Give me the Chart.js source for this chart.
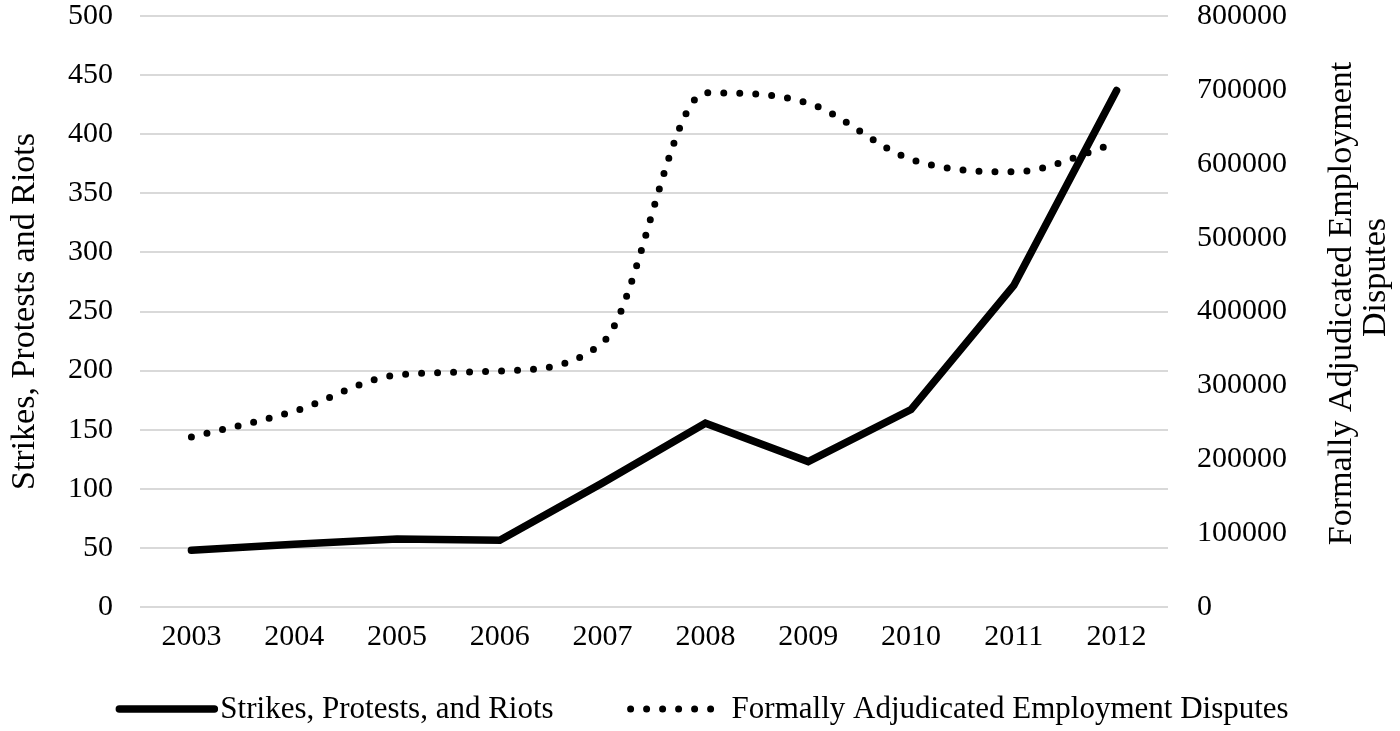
<!DOCTYPE html>
<html>
<head>
<meta charset="utf-8">
<script src="https://cdn.jsdelivr.net/npm/chart.js@4"></script>
<style>
  html, body { margin: 0; padding: 0; background: #fff; }
  #wrap { width: 1400px; height: 731px; }
</style>
</head>
<body>
<div id="wrap"><canvas id="chart"></canvas></div>
<script>
const years = ['2003', '2004', '2005', '2006', '2007', '2008', '2009', '2010', '2011', '2012'];
const strikes = [48, 53, 57.5, 56.5, 105, 155.5, 123, 167, 272, 437];
const disputes = [230000, 265000, 314000, 319500, 358000, 696000, 682000, 606000, 589000, 628000];
const leftTitle = 'Strikes, Protests and Riots';
const rightTitle = ['Formally Adjudicated Employment', 'Disputes'];

const serif = '"Liberation Serif", "Times New Roman", serif';
const tickFont = { family: serif, size: 30, lineHeight: 1 };
const titleFont = { family: serif, size: 34, lineHeight: 1.2 };

// right axis title reads bottom-to-top like the left one
const rightTitlePlugin = {
  id: 'rightTitle',
  afterDraw(chart) {
    const ctx = chart.ctx;
    const area = chart.chartArea;
    const midY = (area.top + area.bottom) / 2;
    ctx.save();
    ctx.fillStyle = '#000';
    ctx.font = titleFont.size + 'px ' + serif;
    ctx.textAlign = 'center';
    ctx.textBaseline = 'middle';
    const xs = [1342, 1376];
    const shifts = [-8, -34];
    rightTitle.forEach((line, i) => {
      ctx.save();
      ctx.translate(xs[i], midY + shifts[i]);
      ctx.rotate(-Math.PI / 2);
      ctx.fillText(line, 0, 0);
      ctx.restore();
    });
    ctx.restore();
  }
};

// legend with long line samples, dashes included
const legendPlugin = {
  id: 'lineLegend',
  afterDraw(chart) {
    const ctx = chart.ctx;
    const sampleW = 95, gap = 6, itemGap = 77, y = 709;
    ctx.save();
    ctx.font = '31px ' + serif;
    const items = chart.data.datasets.map(ds => ({ ds, w: ctx.measureText(ds.label).width }));
    const total = items.reduce((s, it) => s + sampleW + gap + it.w, 0) + itemGap * (items.length - 1);
    let x = (chart.width - total) / 2 + 4;
    items.forEach(({ ds, w }) => {
      ctx.beginPath();
      ctx.strokeStyle = ds.borderColor;
      ctx.lineWidth = ds.borderWidth;
      ctx.lineCap = 'round';
      ctx.setLineDash(ds.borderDash || []);
      ctx.moveTo(x, y);
      ctx.lineTo(x + sampleW, y);
      ctx.stroke();
      ctx.setLineDash([]);
      ctx.fillStyle = '#000';
      ctx.textAlign = 'left';
      ctx.textBaseline = 'middle';
      ctx.fillText(ds.label, x + sampleW + gap, y + 1);
      x += sampleW + gap + w + itemGap;
    });
    ctx.restore();
  }
};

function noVerticalPadding(scale) {
  scale.paddingTop = 0;
  scale.paddingBottom = 0;
}

new Chart(document.getElementById('chart'), {
  type: 'line',
  data: {
    labels: years,
    datasets: [{
      label: 'Strikes, Protests, and Riots',
      data: strikes,
      yAxisID: 'y',
      borderColor: '#000',
      backgroundColor: '#000',
      borderWidth: 7.5,
      borderCapStyle: 'round',
      borderJoinStyle: 'miter',
      tension: 0,
      pointRadius: 0
    }, {
      label: 'Formally Adjudicated Employment Disputes',
      data: disputes,
      yAxisID: 'y1',
      borderColor: '#000',
      backgroundColor: '#000',
      borderWidth: 7,
      borderDash: [0, 16],
      borderCapStyle: 'round',
      cubicInterpolationMode: 'monotone',
      pointRadius: 0
    }]
  },
  plugins: [rightTitlePlugin, legendPlugin],
  options: {
    responsive: true,
    maintainAspectRatio: false,
    animation: false,
    layout: { padding: { left: 0, right: 0, top: 16, bottom: 0 } },
    plugins: {
      legend: { display: false },
      tooltip: { enabled: false }
    },
    scales: {
      x: {
        offset: true,
        grid: { display: false },
        border: { display: false },
        ticks: { font: tickFont, color: '#000', padding: 7 },
        afterFit(scale) { scale.height = 124; }
      },
      y: {
        position: 'left',
        min: 0,
        max: 500,
        ticks: { stepSize: 50, font: tickFont, color: '#000', padding: 27 },
        grid: { color: '#d9d9d9', lineWidth: 2, drawTicks: false },
        border: { display: false },
        title: { display: true, text: leftTitle, font: titleFont, color: '#000', padding: { top: 5, bottom: 0 } },
        afterFit(scale) { scale.width = 140; noVerticalPadding(scale); }
      },
      y1: {
        position: 'right',
        min: 0,
        max: 800000,
        ticks: { stepSize: 100000, font: tickFont, color: '#000', padding: 29, callback: v => String(v) },
        grid: { display: false, drawTicks: false },
        border: { display: false },
        afterFit(scale) { scale.width = 232; noVerticalPadding(scale); }
      }
    }
  }
});
</script>
</body>
</html>
